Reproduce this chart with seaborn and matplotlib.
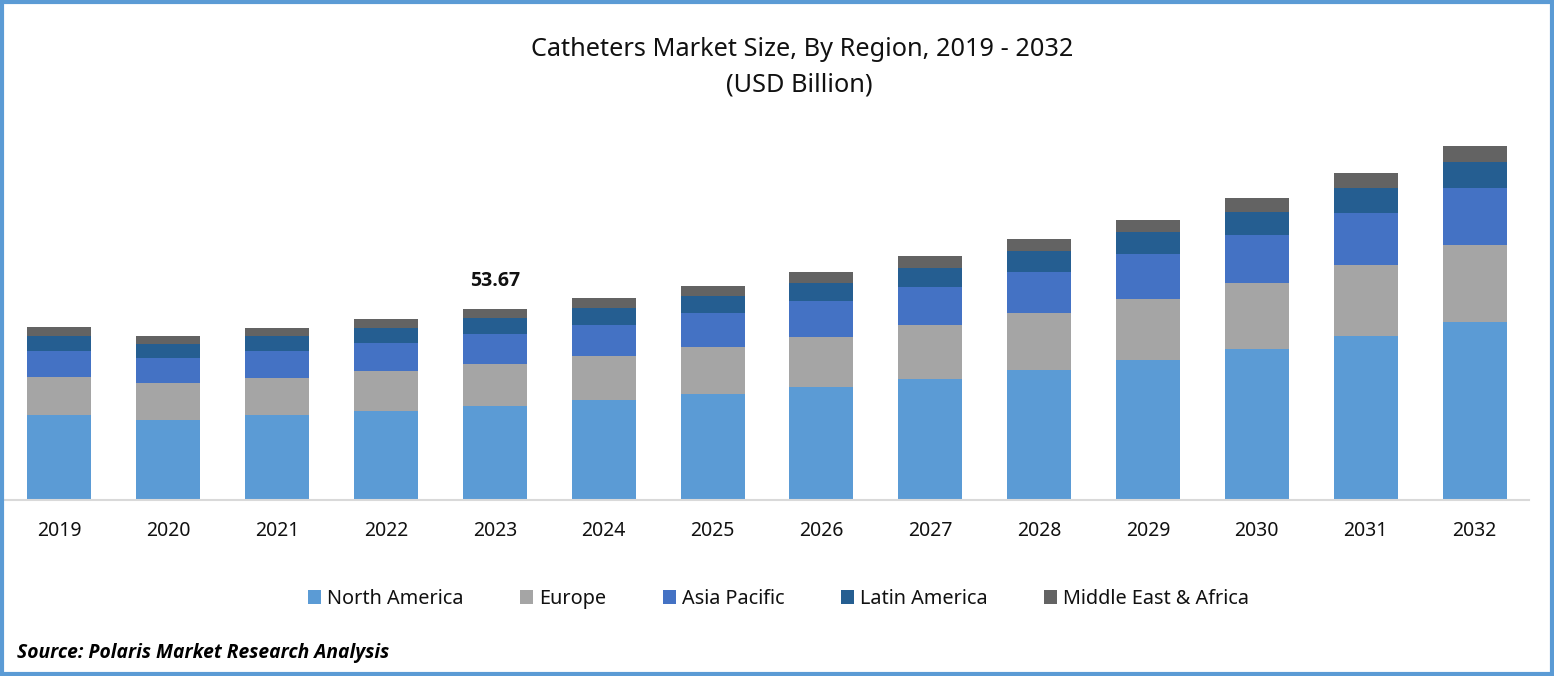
import numpy as np
import seaborn as sns
import matplotlib.pyplot as plt
from matplotlib.patches import Rectangle


years = ['2019','2020','2021','2022','2023','2024','2025','2026','2027','2028','2029','2030','2031','2032']
north_america = [23.9,22.5,23.9,25.0,26.4,28.1,29.8,31.8,34.0,36.5,39.3,42.4,46.1,50.0]
europe = [10.7,10.4,10.4,11.2,11.8,12.4,13.2,14.0,15.2,16.0,17.1,18.5,19.9,21.6]
asia_pacific = [7.3,7.0,7.6,7.9,8.4,8.7,9.6,10.1,10.7,11.5,12.6,13.5,14.6,16.0]
latin_america = [4.2,3.9,4.2,4.2,4.5,4.8,4.8,5.1,5.3,5.9,6.2,6.5,7.0,7.3]
middle_east = [2.5,2.2,2.2,2.5,2.57,2.8,2.8,3.1,3.4,3.4,3.4,3.9,4.2,4.5]

plt.rcParams['font.family'] = ['Noto Sans', 'DejaVu Sans']

plt.figure(figsize=(15.54,6.76), dpi=100)
plt.axes([5/1554, 176/676, 1524/1554, 400/676])

bottom = np.zeros(len(years))
for values,color,name in [(north_america,'#5B9BD5','North America'),
                          (europe,'#A5A5A5','Europe'),
                          (asia_pacific,'#4472C4','Asia Pacific'),
                          (latin_america,'#255E91','Latin America'),
                          (middle_east,'#636363','Middle East & Africa')]:
    sns.barplot(x=years, y=values, bottom=bottom, color=color, saturation=1, width=0.588, label=name, errorbar=None)
    bottom = bottom + np.array(values)

plt.xlim(-0.5,13.5)
plt.ylim(0,112.4)
plt.yticks([])
plt.xlabel('')
plt.ylabel('')
plt.tick_params(axis='x', length=0, pad=15, labelsize=14, labelcolor='#111111')
sns.despine(left=True)
plt.gca().spines['bottom'].set_color('#D9D9D9')
plt.gca().spines['bottom'].set_linewidth(1.5)

plt.text(4, 58.7, '53.67', ha='center', va='bottom', fontsize=14, fontweight='bold', family='Open Sans', color='#111111')

plt.figtext(802/1554, 1-50/676, 'Catheters Market Size, By Region, 2019 - 2032', ha='center', va='center', fontsize=18.2, color='#111111')
plt.figtext(799/1554, 1-85/676, '(USD Billion)', ha='center', va='center', fontsize=18.2, color='#111111')
plt.figtext(17/1554, 1-653/676, 'Source: Polaris Market Research Analysis', ha='left', va='center', fontsize=13.9, fontweight='bold', style='italic', family='Open Sans', color='black')

plt.legend(loc='center', bbox_to_anchor=(778.5/1554,1-599/676), bbox_transform=plt.gcf().transFigure, ncol=5, frameon=False,
           fontsize=14.3, handlelength=0.66, handleheight=0.66, handletextpad=0.3, columnspacing=2.84, labelcolor='#111111')

# blue frame round the picture
plt.gcf().add_artist(Rectangle((2/1554,2/676), 1550/1554, 672/676, transform=plt.gcf().transFigure, fill=False, edgecolor='#5B9BD5', linewidth=3))

plt.savefig('out.png', dpi=100)
